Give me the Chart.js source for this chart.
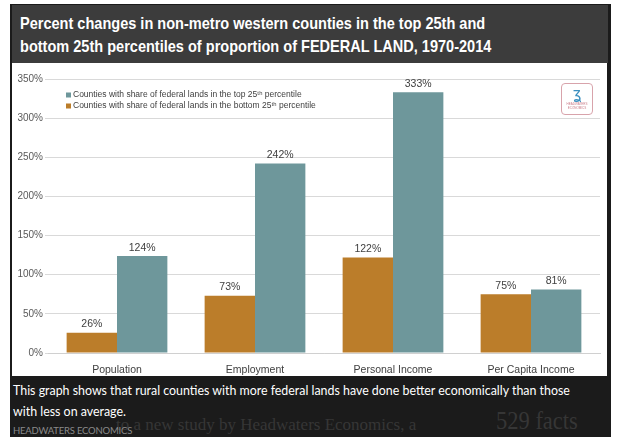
<!DOCTYPE html>
<html>
<head>
<meta charset="utf-8">
<script src="https://cdn.jsdelivr.net/npm/chart.js@4"></script>
<style>
  html,body{margin:0;padding:0;background:#fff;width:623px;height:437px;overflow:hidden;}
  #frame{position:absolute;left:10px;top:4px;width:601px;height:433px;background:#1b1b1b;}
  #header{position:absolute;left:12px;top:5px;width:596px;height:58px;background:#3c3c3c;}
  #title{position:absolute;left:8px;top:7px;color:#fff;font-family:"Liberation Sans",Arial,sans-serif;font-weight:bold;font-size:17px;line-height:23px;white-space:nowrap;transform:scaleX(0.855);transform-origin:0 0;}
  #panel{position:absolute;left:12px;top:63px;width:595px;height:313px;background:#fff;}
  #logo{position:absolute;left:549px;top:20px;width:32px;height:32px;border:1px solid #d8a3ab;border-radius:4px;box-sizing:border-box;text-align:center;}
  #logo .sw{font-family:"DejaVu Sans",sans-serif;color:#3b8fbf;font-size:15px;line-height:17px;display:block;margin-top:2px;}
  #logo .tx{font-family:"Liberation Sans",sans-serif;color:#c97c88;font-size:3px;line-height:3.5px;display:block;}
  #ghost1{position:absolute;left:116px;top:415px;color:#363636;font-family:"Liberation Serif",serif;font-size:17px;white-space:nowrap;}
  #ghost2{position:absolute;left:496px;top:407px;color:#363636;font-family:"Liberation Serif",serif;font-size:25px;white-space:nowrap;transform:scaleX(0.9);transform-origin:0 0;}
  #caption{position:absolute;left:13px;top:380px;color:#fff;font-family:Lato,"Open Sans",sans-serif;font-size:12.4px;line-height:21px;width:565px;}
  #credit{position:absolute;left:13px;top:425px;color:#8a8a8a;font-family:Lato,"Open Sans",sans-serif;font-size:9.5px;letter-spacing:-0.2px;white-space:nowrap;}
</style>
</head>
<body>
<div id="frame"></div>
<div id="header"><div id="title">Percent changes in non-metro western counties in the top 25th and<br>bottom 25th percentiles of proportion of FEDERAL LAND, 1970-2014</div></div>
<div id="ghost1">to a new study by Headwaters Economics, a</div>
<div id="ghost2">529 facts</div>
<div id="caption">This graph shows that rural counties with more federal lands have done better economically than those with less on average.</div>
<div id="credit">HEADWATERS ECONOMICS</div>
<div id="panel">
  <canvas id="c" width="595" height="313"></canvas>
  <div id="logo"><span class="sw">ʓ</span><span class="tx">HEADWATERS<br>ECONOMICS</span></div>
</div>
<script>
const categories = ["Population", "Employment", "Personal Income", "Per Capita Income"];
const bottom25 = [26, 73, 122, 75];
const top25 = [124, 242, 333, 81];
const yTicks = [0, 50, 100, 150, 200, 250, 300, 350];
const labelBottom = "Counties with share of federal lands in the bottom 25ᵗʰ percentile";
const labelTop = "Counties with share of federal lands in the top 25ᵗʰ percentile";

const ORANGE = "#bb7d2a";
const TEAL = "#6e979b";
const FONT = '"Liberation Sans", Arial, sans-serif';

const valueLabels = {
  id: "valueLabels",
  afterDatasetsDraw(chart) {
    const ctx = chart.ctx;
    ctx.save();
    ctx.font = "10.5px " + FONT;
    ctx.fillStyle = "#404040";
    ctx.textAlign = "center";
    ctx.textBaseline = "bottom";
    chart.data.datasets.forEach((ds, i) => {
      chart.getDatasetMeta(i).data.forEach((bar, j) => {
        ctx.fillText(ds.data[j] + "%", bar.x, bar.y - 3);
      });
    });
    ctx.restore();
  }
};

const insideLegend = {
  id: "insideLegend",
  afterDraw(chart) {
    const ctx = chart.ctx;
    const a = chart.chartArea;
    ctx.save();
    ctx.font = "8.5px " + FONT;
    ctx.textBaseline = "middle";
    ctx.textAlign = "left";
    const items = chart.data.datasets.slice().reverse();
    items.forEach((ds, k) => {
      const y = a.top + 16 + k * 11;
      const x = a.left + 18;
      ctx.fillStyle = ds.backgroundColor;
      ctx.fillRect(x, y - 2.5, 5, 5);
      ctx.fillStyle = "#404040";
      ctx.fillText(ds.label, x + 7, y);
    });
    ctx.restore();
  }
};

new Chart(document.getElementById("c"), {
  type: "bar",
  data: {
    labels: categories,
    datasets: [
      { label: labelBottom, data: bottom25, backgroundColor: ORANGE, categoryPercentage: 0.73, barPercentage: 1.0 },
      { label: labelTop, data: top25, backgroundColor: TEAL, categoryPercentage: 0.73, barPercentage: 1.0 }
    ]
  },
  options: {
    responsive: false,
    animation: false,
    layout: { padding: { left: 0, right: 7, top: 16, bottom: 0 } },
    plugins: { legend: { display: false }, tooltip: { enabled: false } },
    scales: {
      x: {
        grid: { display: false },
        border: { display: true, color: "#d0d0d0" },
        ticks: { color: "#404040", font: { family: FONT, size: 10.5 }, padding: 3 },
        afterFit(s) { s.height = 23; }
      },
      y: {
        min: 0, max: 350,
        afterBuildTicks(s) { s.ticks = yTicks.map(v => ({ value: v })); },
        grid: { color: "#d9d9d9", tickLength: 3, drawTicks: true },
        border: { display: false },
        ticks: { color: "#595959", font: { family: FONT, size: 10 }, padding: 2, callback: v => v + "%" },
        afterFit(s) { s.width = 36; }
      }
    }
  },
  plugins: [valueLabels, insideLegend]
});
</script>
</body>
</html>
